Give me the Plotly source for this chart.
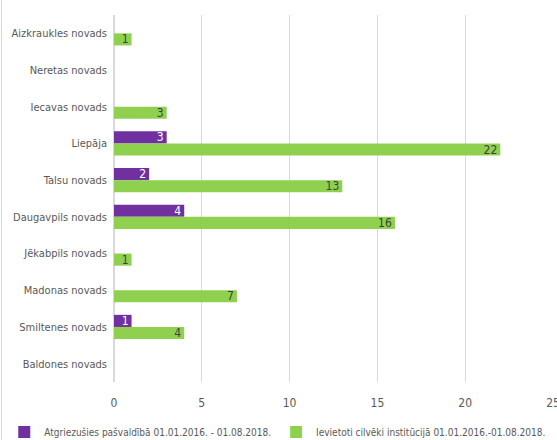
import plotly.graph_objects as go

# categories top to bottom
regions = ["Aizkraukles novads", "Neretas novads", "Iecavas novads", "Liepāja",
           "Talsu novads", "Daugavpils novads", "Jēkabpils novads",
           "Madonas novads", "Smiltenes novads", "Baldones novads"]
returned = [0, 0, 0, 3, 2, 4, 0, 0, 1, 0]
placed = [1, 0, 3, 22, 13, 16, 1, 7, 4, 0]
returned_name = "Atgriezušies pašvaldībā 01.01.2016. - 01.08.2018."
placed_name = "Ievietoti cilvēki institūcijā 01.01.2016.-01.08.2018."
x_ticks = [0, 5, 10, 15, 20, 25]

FONT = "DejaVu Sans Condensed, Roboto, sans-serif"
GREY = "#595959"

fig = go.Figure()
fig.add_trace(go.Bar(
    y=regions, x=returned, orientation="h", name=returned_name,
    marker=dict(color="#7030A0", line=dict(width=0)),
    text=[str(v) if v else "" for v in returned],
    textposition="inside", insidetextanchor="end", textangle=0,
    textfont=dict(color="white", size=12, family=FONT),
))
fig.add_trace(go.Bar(
    y=regions, x=placed, orientation="h", name=placed_name,
    marker=dict(color="#8FD14F", line=dict(width=0)),
    text=[str(v) if v else "" for v in placed],
    textposition="inside", insidetextanchor="end", textangle=0,
    textfont=dict(color="#404040", size=12, family=FONT),
))

fig.update_layout(
    width=557, height=440,
    margin=dict(l=114, r=4, t=15, b=58, autoexpand=False),
    barmode="group", bargap=0.34, bargroupgap=0,
    plot_bgcolor="white", paper_bgcolor="white",
    font=dict(family=FONT, size=11, color=GREY),
    showlegend=True,
    # anchored left in the margin so the legend may use the full width
    legend=dict(orientation="h", x=-0.25, xanchor="left", y=-50 / 367, yanchor="middle",
                font=dict(size=10, color=GREY), traceorder="normal",
                itemwidth=30, tracegroupgap=0),
    uniformtext=dict(minsize=8, mode="show"),
)
fig.update_xaxes(range=[0, 25], tickvals=x_ticks, showgrid=True, gridcolor="#D9D9D9",
                 gridwidth=1, zeroline=True, zerolinecolor="#D9D9D9", showline=False,
                 ticks="", ticklabelstandoff=12, automargin=False,
                 ticklabeloverflow="allow", tickfont=dict(size=12, color=GREY))
fig.update_yaxes(autorange="reversed", showgrid=False, showline=False, ticks="",
                 ticklabelstandoff=6, automargin=False,
                 tickfont=dict(size=11, color=GREY))

# chart border on the left edge
fig.add_shape(type="line", xref="paper", yref="paper",
              x0=-112.5 / 439, x1=-112.5 / 439, y0=-58 / 367, y1=1 + 15 / 367,
              line=dict(color="#D9D9D9", width=1))

fig.write_html("out.html", config={"displayModeBar": False},
               post_script="document.body.style.margin='0';")
